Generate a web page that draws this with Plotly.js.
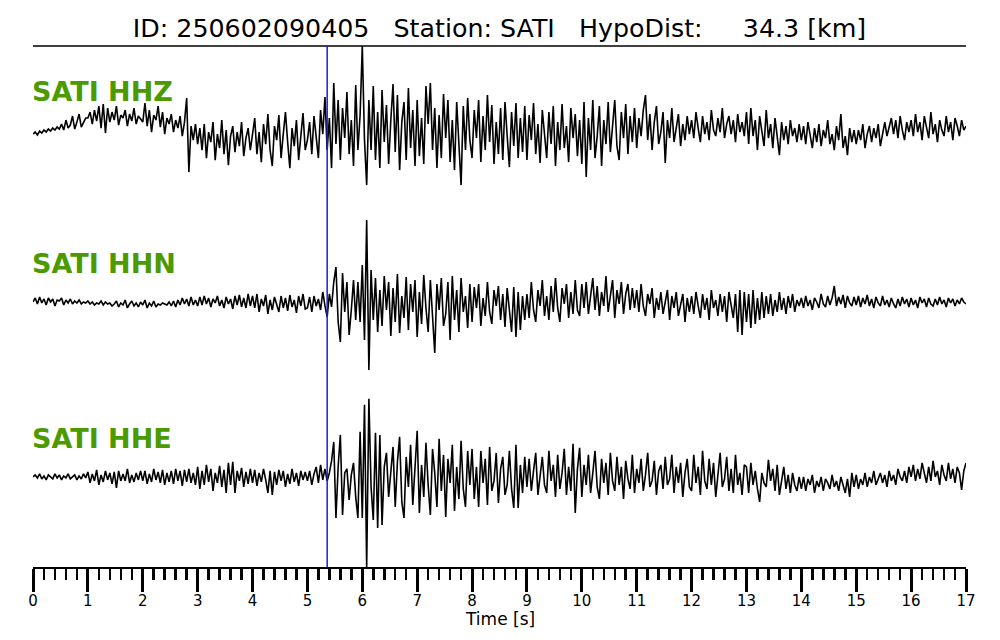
<!DOCTYPE html>
<html>
<head>
<meta charset="utf-8">
<script src="https://cdn.plot.ly/plotly-3.0.1.min.js"></script>
<style>html,body{margin:0;padding:0;background:#fff}#chart{width:1000px;height:640px}</style>
</head>
<body>
<div id="chart"></div>
<script>
// Sampling of the traces (seconds)
var startTime = 0;
var sampleStep = 0.04;
// P-pick marker time (s)
var pickTime = 5.36;

var stationName = "SATI";
var channels = ["SATI HHZ", "SATI HHN", "SATI HHE"];
var titleText = "ID: 250602090405\u00a0\u00a0\u00a0Station: SATI\u00a0\u00a0\u00a0HypoDist:\u00a0\u00a0\u00a0\u00a0 34.3 [km]";
var xAxisTitle = "Time [s]";
var xTickValues = [0,1,2,3,4,5,6,7,8,9,10,11,12,13,14,15,16,17];
var xTickLabels = ["0","1","2","3","4","5","6","7","8","9","10","11","12","13","14","15","16","17"];

// Amplitudes (one line per second)
var hhz = [
-4,-2,-5,-1,-3,0,-2,1,-1,2,0,3,1,6,0,10,2,5,14,1,8,16,3,7,12,
12,18,6,20,9,24,2,26,-3,22,8,18,10,24,5,15,12,20,4,16,9,22,6,14,11,
8,27,4,20,-2,15,10,24,3,18,-4,12,6,16,-2,10,2,14,-6,8,32,-42,4,-10,6,
-14,2,-20,6,-28,-2,-12,8,-30,-4,-18,10,-24,0,-35,-6,4,-22,-2,-16,8,-26,-8,2,-20,
-6,12,-24,-2,-32,6,-14,16,-20,-36,4,-10,15,-28,-4,18,-12,-38,2,-16,10,-30,-6,17,-20,
-10,8,-24,14,-6,-28,20,-4,33,-20,12,-38,47,-14,30,-30,22,-8,38,-24,10,-36,45,-20,15,
84,-10,-55,30,-20,44,-30,18,-38,40,-12,25,-34,10,46,-22,35,-40,8,28,-30,42,-18,20,-36,
30,-26,12,-34,44,6,47,-20,22,-38,15,-28,36,-8,30,-32,10,-40,28,-14,-55,24,-20,32,-10,
-28,20,-8,30,-32,14,-20,35,-12,25,-34,8,-24,22,-30,28,-6,-37,18,-16,27,-28,12,-22,24,
-30,15,-10,27,-24,6,-33,20,-4,-28,18,-14,24,-36,8,-20,26,-18,4,-32,22,-8,16,-26,10,
-34,28,-47,12,-20,30,-28,-6,24,-36,10,-14,28,-22,6,30,-16,-30,18,-8,26,-24,14,-12,22,
-18,12,-6,20,35,-10,16,-20,8,24,-14,-2,18,-33,10,-8,22,-12,4,16,-16,6,-10,14,-4,
10,-8,18,2,-12,14,-4,8,-10,20,0,-6,12,-2,22,-8,6,14,-4,10,-12,16,-2,8,-6,
18,-14,22,-6,10,-20,14,-2,-16,20,-8,6,-18,12,-4,-25,8,-10,4,-14,10,-6,2,-12,6,
-10,4,-14,8,-6,-18,2,-12,6,-16,0,-8,10,-14,-4,-20,4,-10,16,-18,-6,-25,2,-12,0,
-14,0,-10,6,-18,-4,4,-12,2,-8,6,-16,-2,8,-6,2,12,-4,10,-8,14,0,-10,8,-2,
10,-6,16,-2,8,-10,14,2,-8,18,-4,6,-12,10,0,-6,14,-2,8,-10,12,4,-6,10,0,
4
];

var hhn = [
0,4,-2,5,-1,3,-3,4,0,3,-4,2,1,4,-3,2,-1,3,-2,1,-1,2,-2,0,-1,
1,-2,0,-3,-1,-2,1,-3,0,-2,-1,-4,-2,1,-5,-1,-3,2,-6,-2,1,-4,-1,-5,0,
-3,2,-6,-1,-4,1,-5,-2,-3,-1,-2,-3,0,-4,1,-5,2,-3,4,-2,3,-4,5,-3,2,
-4,5,-3,6,-2,4,-5,3,-1,6,-4,2,-6,5,-2,3,-7,6,-3,7,-5,4,-6,8,-4,
6,-6,8,-10,3,-4,7,-12,2,-8,5,-3,-10,6,-6,4,-9,7,-5,2,-11,6,-4,8,-7,
-6,5,-10,6,-4,3,-8,10,-4,-15,8,-5,20,35,-20,-40,29,-10,20,-33,-8,22,-18,20,-20,
37,-38,82,-68,32,-18,24,-30,12,-24,26,-8,20,-34,14,-20,28,-31,6,-16,25,-28,18,-10,22,
-35,10,-22,27,-6,-30,22,-14,-51,18,-8,24,-24,-12,20,-38,26,-18,12,-30,24,-10,6,-26,18,
-20,15,-6,18,-24,4,-14,20,-10,-22,12,-4,16,-18,8,-25,14,-8,-30,15,-35,10,-28,6,-18,
8,-16,20,-8,-20,12,-4,22,-14,6,-18,16,-10,24,-6,-20,14,-2,18,-16,10,-12,22,-8,-14,
18,-6,20,-12,6,24,-8,16,-14,10,-4,26,-10,4,22,-16,12,-2,20,-12,8,18,-8,14,-6,
12,-10,18,-4,-14,8,-2,14,-16,4,-8,10,-12,2,12,-18,6,-6,10,-14,-2,8,-20,4,-10,
6,-12,10,-4,-16,8,-8,4,-18,12,-6,2,-14,8,-10,6,-20,10,-4,-16,8,-30,12,-33,10,
-20,8,-26,12,-22,4,-18,10,-16,6,-12,8,-14,2,-10,10,-8,4,-12,6,-6,8,-10,2,-4,
4,-6,6,-4,2,-8,4,0,-6,8,-2,-5,6,-3,4,16,-4,5,-2,7,-6,6,-1,-4,5,
-3,6,-5,4,-2,7,-4,3,-6,5,-1,-4,6,-3,2,-5,4,-2,-6,3,-4,5,-2,3,-5,
4,-3,2,-6,5,-1,3,-5,4,-2,-4,3,-3,5,-2,2,-5,4,-1,3,-4,2,-2,4,0,
-2
];

var hhe = [
0,2,-1,3,-2,1,-3,2,0,-2,3,-1,2,-3,1,-1,3,-2,0,2,-3,1,-2,3,-1,
5,-6,3,-4,7,-8,2,-5,6,-3,4,-7,5,-11,6,-4,3,-4,8,-6,2,-5,4,-3,6,
-4,6,-7,3,-5,8,-3,5,-6,7,-8,4,-5,6,-7,8,-4,6,-9,7,-5,8,-6,4,-8,
10,-12,6,-8,12,-5,8,-14,4,-6,11,-10,7,-16,14,-8,15,-16,6,-4,9,-10,5,-7,8,
-6,7,-9,4,-5,8,-3,-16,6,-18,5,-8,7,-4,6,-10,3,-7,8,-5,4,-9,6,-3,5,
-4,6,-8,3,10,-6,12,-3,8,-4,4,16,35,-41,10,42,-38,4,8,-23,2,14,-20,-41,45,
-41,72,-90,78,-10,-43,44,-51,42,-48,10,24,-20,8,30,-30,15,40,-25,-41,20,-10,32,-28,10,
46,-36,12,-20,34,-8,-38,28,4,-30,38,-14,22,-40,18,-6,32,-34,10,-22,36,-12,-30,26,-8,
28,-22,10,-30,26,-6,18,-28,30,-14,-4,24,-26,8,20,-18,-8,26,-12,-31,32,-31,12,-16,20,
-10,18,-14,6,24,-18,2,20,-8,-16,26,-4,12,-20,22,-12,4,28,-18,10,-14,33,-36,8,29,
-20,12,-8,22,-16,4,26,-10,-22,18,-6,14,-18,24,-4,-14,20,-8,10,-22,16,-2,-12,22,-16,
8,-6,18,-14,2,24,-10,-4,16,-18,6,12,-12,20,-8,-2,22,-16,10,-6,14,-20,4,18,-10,
-14,22,-6,10,-18,26,-4,-12,18,-8,14,-20,6,24,-10,-2,20,-14,8,-16,22,-8,4,-18,12,
10,-16,14,-8,6,-12,-25,4,-6,-10,17,-4,8,-14,12,-18,-6,10,-12,2,-16,4,-8,-14,0,
-12,0,-14,-2,-8,2,-16,-4,-10,0,-14,-2,-6,-12,2,-10,-4,-14,0,-8,-16,-2,-20,4,-10,
2,-12,-2,-8,4,-10,0,-6,6,-8,-2,4,-6,2,-10,6,-4,2,-8,8,0,-4,6,-6,10,
0,12,-4,8,-2,14,2,-6,10,-4,16,0,6,-8,12,2,-4,14,-2,8,-6,10,4,-13,6,
14
];

var series = [hhz, hhn, hhe];
var axisIds = ["y", "y2", "y3"];
var font = "DejaVu Sans, Liberation Sans, sans-serif";
var green = "#4b9a00";

var data = series.map(function (vals, i) {
  return {
    type: "scatter", mode: "lines",
    x0: startTime, dx: sampleStep, y: vals,
    yaxis: axisIds[i], xaxis: "x",
    line: {color: "#000", width: 1.6},
    hoverinfo: "skip", showlegend: false
  };
});

var labelY = [0.9136, 0.5816, 0.2476];
var annotations = channels.map(function (c, i) {
  return {
    text: "<b>" + c + "</b>", xref: "paper", yref: "paper",
    x: 0, y: labelY[i], xanchor: "left", yanchor: "middle", xshift: -3,
    showarrow: false, font: {family: font, size: 27, color: green}
  };
});
annotations.push({
  text: xAxisTitle, xref: "paper", yref: "paper", x: 0.5, y: -0.1,
  xanchor: "center", yanchor: "middle", showarrow: false, borderpad: 0,
  font: {family: font, size: 17, color: "#000"}
});

var hiddenY = {visible: false, showgrid: false, zeroline: false, fixedrange: true};

var layout = {
  width: 1000, height: 640,
  margin: {l: 33, r: 34, t: 46, b: 73},
  paper_bgcolor: "#fff", plot_bgcolor: "#fff",
  font: {family: font, color: "#000"},
  title: {text: titleText, x: 0.5, xref: "paper", xanchor: "center",
          y: 1 - 28 / 640, yref: "container", yanchor: "middle",
          font: {family: font, size: 25.3, color: "#000"}},
  xaxis: {
    range: [0, 17], anchor: "y3", showgrid: false, zeroline: false,
    showline: true, linecolor: "#000", linewidth: 1.5,
    tickmode: "array", tickvals: xTickValues, ticktext: xTickLabels,
    ticks: "outside", ticklen: 23, tickwidth: 3, tickcolor: "#000",
    ticklabelstandoff: -4,
    tickfont: {family: font, size: 15, color: "#000"},
    minor: {dtick: 0.2, tick0: 0, ticks: "outside", ticklen: 11, tickwidth: 2.5, tickcolor: "#000", showgrid: false}
  },
  yaxis: Object.assign({domain: [0.685, 1], range: [-80, 84]}, hiddenY),
  yaxis2: Object.assign({domain: [0.34, 0.685], range: [-88, 92]}, hiddenY),
  yaxis3: Object.assign({domain: [0, 0.34], range: [-90, 87]}, hiddenY),
  shapes: [
    {type: "line", xref: "paper", yref: "paper", x0: 0, x1: 1, y0: 1, y1: 1,
     line: {color: "#000", width: 1.5}},
    {type: "line", xref: "x", yref: "paper", x0: pickTime, x1: pickTime, y0: 0, y1: 1,
     line: {color: "#1a1adf", width: 1.5}}
  ],
  annotations: annotations
};

Plotly.newPlot("chart", data, layout, {displayModeBar: false, staticPlot: true});
</script>
</body>
</html>
